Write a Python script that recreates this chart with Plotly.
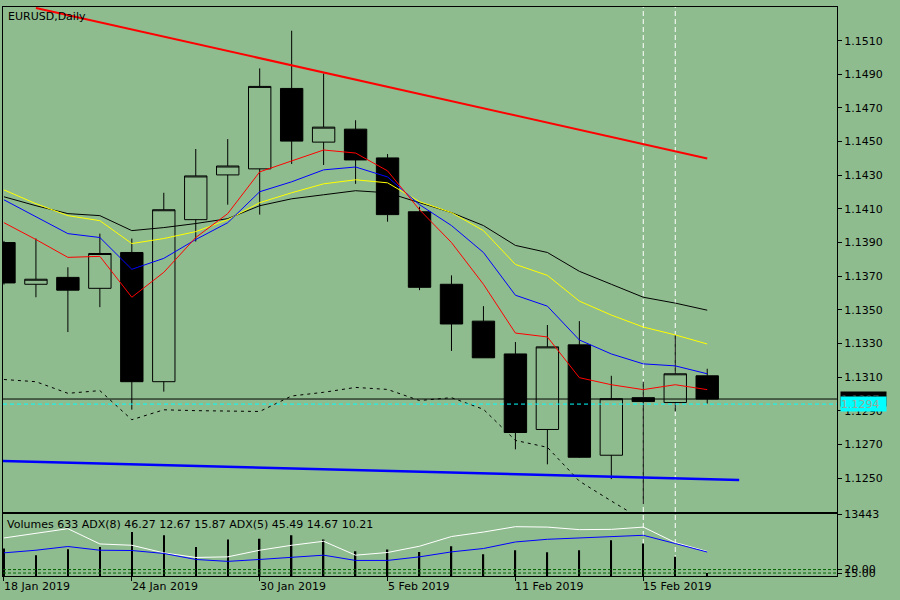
import plotly.graph_objects as go

# EURUSD daily, 18 Jan 2019 - 19 Feb 2019 (one bar per trading day)
dates = ["2019-01-18", "2019-01-21", "2019-01-22", "2019-01-23", "2019-01-24", "2019-01-25",
         "2019-01-28", "2019-01-29", "2019-01-30", "2019-01-31", "2019-02-01",
         "2019-02-04", "2019-02-05", "2019-02-06", "2019-02-07", "2019-02-08",
         "2019-02-11", "2019-02-12", "2019-02-13", "2019-02-14", "2019-02-15",
         "2019-02-18", "2019-02-19"]
idx = list(range(len(dates)))

open_ = [1.13900, 1.13652, 1.13693, 1.13628, 1.13841, 1.13073, 1.14036, 1.14302, 1.14338, 1.14816,
         1.14497, 1.14574, 1.14403, 1.14083, 1.13652, 1.13433, 1.13238, 1.12789, 1.13292, 1.12636,
         1.12978, 1.12949, 1.13108]
high = [1.13910, 1.13924, 1.13753, 1.13953, 1.13924, 1.14196, 1.14456, 1.14515, 1.14935, 1.15159,
        1.14905, 1.14627, 1.14426, 1.14113, 1.13705, 1.13522, 1.13309, 1.13410, 1.13433, 1.13108,
        1.13073, 1.13351, 1.13150]
low = [1.13650, 1.13575, 1.13368, 1.13516, 1.12907, 1.13014, 1.13906, 1.14125, 1.14066, 1.14367,
       1.14361, 1.14249, 1.14024, 1.13617, 1.13256, 1.13215, 1.12671, 1.12582, 1.12620, 1.12494,
       1.12346, 1.12896, 1.12943]
close = [1.13660, 1.13682, 1.13617, 1.13835, 1.13073, 1.14095, 1.14296, 1.14355, 1.14828, 1.14503,
         1.14586, 1.14391, 1.14066, 1.13634, 1.13416, 1.13215, 1.12771, 1.13280, 1.12624, 1.12972,
         1.12955, 1.13120, 1.12970]

# moving averages
ma_red = [1.14018, 1.13918, 1.13812, 1.13818, 1.13575, 1.13723, 1.13930, 1.14072, 1.14320, 1.14385,
          1.14450, 1.14432, 1.14326, 1.14095, 1.13900, 1.13652, 1.13362, 1.13339, 1.13097, 1.13055,
          1.13026, 1.13055, 1.13026]
ma_blue = [1.14154, 1.14054, 1.13953, 1.13930, 1.13741, 1.13806, 1.13918, 1.14018, 1.14202, 1.14261,
           1.14332, 1.14349, 1.14290, 1.14125, 1.14001, 1.13841, 1.13587, 1.13522, 1.13321, 1.13238,
           1.13179, 1.13167, 1.13120]
ma_yellow = [1.14213, 1.14131, 1.14060, 1.14030, 1.13894, 1.13924, 1.13965, 1.14036, 1.14137, 1.14196,
             1.14249, 1.14273, 1.14255, 1.14143, 1.14078, 1.13971, 1.13770, 1.13705, 1.13552, 1.13469,
             1.13398, 1.13351, 1.13297]
ma_black = [1.14172, 1.14119, 1.14072, 1.14060, 1.13971, 1.13989, 1.14013, 1.14042, 1.14119, 1.14160,
            1.14184, 1.14208, 1.14196, 1.14137, 1.14078, 1.14001, 1.13883, 1.13841, 1.13729, 1.13652,
            1.13575, 1.13540, 1.13498]
# lower dotted band (runs off the bottom after 14 Feb)
band_low = [1.13086, 1.13073, 1.13004, 1.13020, 1.12847, 1.12906, 1.12901, 1.12900, 1.12896, 1.12988,
            1.13010, 1.13039, 1.13027, 1.12961, 1.12978, 1.12909, 1.12724, 1.12683, 1.12482, 1.12364,
            1.12250]

# trend lines (bar index, price)
red_trend_x = [1, 22]
red_trend_y = [1.15294, 1.14400]
blue_trend_x = [-1, 23]
blue_trend_y = [1.12606, 1.12489]

bid = 1.1297
hline = 1.1294
vlines = [20, 21]
price_ticks = [1.1250, 1.1270, 1.1290, 1.1310, 1.1330, 1.1350, 1.1370, 1.1390,
               1.1410, 1.1430, 1.1450, 1.1470, 1.1490, 1.1510]

# lower panel
volumes = [6000, 4550, 5850, 6350, 9600, 8890, 6350, 7960, 8170, 8890, 7960, 5420, 5790, 5270,
           6500, 4770, 5640, 5200, 5640, 7810, 7090, 4190, 633]
adx8 = [65.9, 72.6, 79.4, 57.2, 55.3, 44.3, 37.6, 38.5, 48.1, 55.3, 61.1, 40.9, 44.8, 53.9,
        68.0, 74.5, 82.3, 81.7, 78.0, 78.4, 81.7, 59.2, 46.27]
adx5 = [44.3, 48.1, 53.5, 48.1, 47.7, 43.4, 34.7, 31.9, 34.7, 37.6, 40.9, 33.3, 33.3, 38.5,
        45.7, 50.6, 60.1, 64.0, 65.9, 68.3, 69.8, 57.8, 45.49]
adx_levels = [15, 20]

date_ticks = [0, 4, 8, 12, 16, 20]
date_labels = ["18 Jan 2019", "24 Jan 2019", "30 Jan 2019", "5 Feb 2019", "11 Feb 2019", "15 Feb 2019"]

BG = "#8FBC8F"
FONT = "DejaVu Sans"
X_RANGE = [-0.03, 26.06]

fig = go.Figure()

fig.add_trace(go.Candlestick(
    x=idx, open=open_, high=high, low=low, close=close,
    increasing=dict(line=dict(color="black", width=1), fillcolor=BG),
    decreasing=dict(line=dict(color="black", width=1), fillcolor="black"),
    whiskerwidth=0, xaxis="x", yaxis="y"))

for vals, col in [(ma_black, "black"), (ma_yellow, "#FFFF00"), (ma_blue, "#0000FF"), (ma_red, "#FF0000")]:
    fig.add_trace(go.Scatter(x=idx, y=vals, mode="lines", line=dict(color=col, width=1),
                             xaxis="x", yaxis="y"))
fig.add_trace(go.Scatter(x=idx[:len(band_low)], y=band_low, mode="lines",
                         line=dict(color="black", width=1, dash="3px,4px"), xaxis="x", yaxis="y"))
fig.add_trace(go.Scatter(x=red_trend_x, y=red_trend_y, mode="lines",
                         line=dict(color="#FF0000", width=2), xaxis="x", yaxis="y"))
fig.add_trace(go.Scatter(x=blue_trend_x, y=blue_trend_y, mode="lines",
                         line=dict(color="#0000FF", width=2.5), xaxis="x", yaxis="y"))

fig.add_trace(go.Bar(x=idx, y=volumes, width=0.045, marker=dict(color="black", line_width=0),
                     xaxis="x2", yaxis="y2"))
fig.add_trace(go.Scatter(x=idx, y=adx8, mode="lines", line=dict(color="white", width=1),
                         xaxis="x2", yaxis="y3"))
fig.add_trace(go.Scatter(x=idx, y=adx5, mode="lines", line=dict(color="#0000FF", width=1),
                         xaxis="x2", yaxis="y3"))

shapes = []
for v in vlines:
    shapes.append(dict(type="line", xref="x", yref="paper", x0=v, x1=v, y0=0, y1=1, layer="below",
                       line=dict(color="white", width=1, dash="5px,3px")))
shapes.append(dict(type="line", xref="paper", yref="y", x0=0, x1=1, y0=bid, y1=bid,
                   line=dict(color="black", width=1)))
shapes.append(dict(type="line", xref="paper", yref="y", x0=0, x1=1, y0=hline, y1=hline,
                   line=dict(color="#00FFFF", width=1, dash="4px,3px")))
for lv in adx_levels:
    shapes.append(dict(type="line", xref="paper", yref="y3", x0=0, x1=1, y0=lv, y1=lv,
                       line=dict(color="#006400", width=1, dash="3px,2px")))

tf = dict(family=FONT, size=11, color="black")
annotations = [
    dict(xref="paper", yref="paper", x=0.004, y=0.9826, xanchor="left", yanchor="middle",
         text="EURUSD,Daily", showarrow=False, font=tf),
    dict(xref="paper", yref="paper", x=0.002, y=(576 - 524.5) / 574, xanchor="left", yanchor="middle",
         text=f"Volumes {volumes[-1]} ADX(8) {adx8[-1]:.2f} 12.67 15.87 ADX(5) {adx5[-1]:.2f} 14.67 10.21",
         showarrow=False, font=tf),
    dict(xref="paper", yref="y", x=1, xshift=3, y=bid, xanchor="left", yanchor="middle",
         text=f"{bid:.4f}", showarrow=False, bgcolor="black", width=45, height=14, align="left",
         borderpad=0, font=dict(family=FONT, size=11, color="#3a3a3a")),
    dict(xref="paper", yref="y", x=1, xshift=3, y=hline, xanchor="left", yanchor="middle",
         text=f"{hline:.4f}", showarrow=False, bgcolor="#00FFFF", width=45, height=14, align="left",
         borderpad=0, font=dict(family=FONT, size=11, color="#9aa89a")),
]
for t, lab in zip(date_ticks, date_labels):
    px = (t - X_RANGE[0]) / (X_RANGE[1] - X_RANGE[0])
    annotations.append(dict(xref="paper", yref="paper", x=px, xshift=-2, y=0, yshift=-2,
                            xanchor="left", yanchor="top", text=lab, showarrow=False, font=tf))

axis_common = dict(showgrid=False, zeroline=False, showline=True, mirror=True,
                   linecolor="black", linewidth=1)

fig.update_layout(
    width=900, height=600,
    margin=dict(l=2, r=63, t=2, b=24),
    paper_bgcolor=BG, plot_bgcolor=BG,
    showlegend=False,
    boxgap=0.3, boxgroupgap=0,
    shapes=shapes,
    annotations=annotations,
    xaxis=dict(domain=[0, 1], anchor="y", range=X_RANGE, showticklabels=False, ticks="",
               rangeslider=dict(visible=False), **axis_common),
    yaxis=dict(domain=[0.1132, 1], anchor="x", range=[1.12301, 1.15300], side="right",
               tickvals=price_ticks, ticktext=[f"{p:.4f}" for p in price_ticks],
               ticks="outside", ticklen=4, tickcolor="black", tickfont=tf, **axis_common),
    xaxis2=dict(domain=[0, 1], anchor="y2", matches="x", range=X_RANGE, showticklabels=False,
                ticks="outside", tickvals=date_ticks, ticklen=4, tickcolor="black", **axis_common),
    yaxis2=dict(domain=[0, 0.1098], anchor="x2", range=[0, 13660], side="right",
                tickvals=[13443], ticktext=["13443"], ticks="outside", ticklen=4,
                tickcolor="black", tickfont=tf, **axis_common),
    yaxis3=dict(overlaying="y2", anchor="x2", side="right", range=[10.68, 101.4],
                tickvals=adx_levels, ticktext=["15.00", "20.00"], ticks="outside", ticklen=4,
                tickcolor="black", tickfont=tf, showgrid=False, zeroline=False, showline=False),
)

# the page's default body margin would shift the 900x600 figure off the window
fig.write_html("out.html", config={"displayModeBar": False},
               post_script="document.body.style.margin='0';")
